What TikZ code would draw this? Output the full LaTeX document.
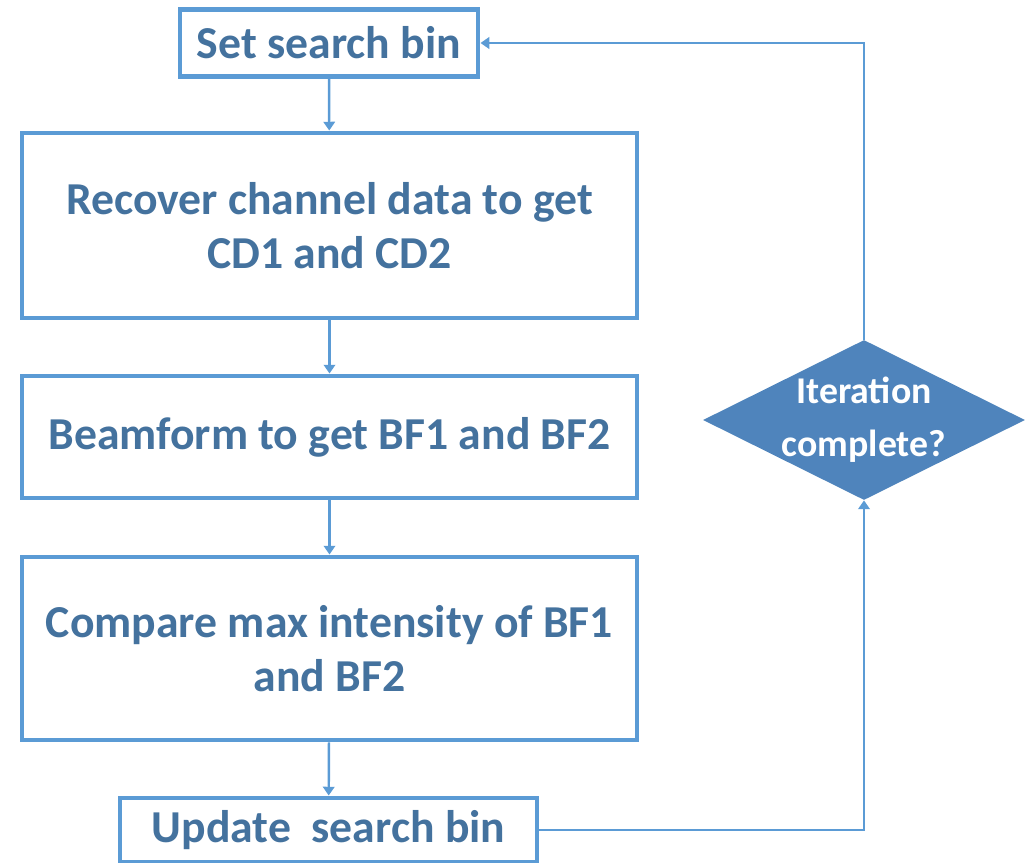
\documentclass[tikz,border=0pt]{standalone}
\usepackage{fontspec}
\setmainfont{Carlito}
\usepackage{tikz}
\usetikzlibrary{shapes.geometric,arrows.meta,positioning}
\definecolor{boxline}{HTML}{5B9BD5}
\definecolor{boxtext}{HTML}{44729E}
\definecolor{decfill}{HTML}{4F84BC}

\begin{document}
\begin{tikzpicture}[font=\fontsize{26}{31}\selectfont\bfseries,
  box/.style={draw=boxline,line width=2.8pt,fill=white,text=boxtext,align=center,inner sep=0pt},
  dec/.style={diamond,fill=decfill,inner sep=0pt,
    label={[text=white,align=center,font=\fontsize{21.5}{30}\selectfont\bfseries]center:#1}},
  flow/.style={draw=boxline,line width=1.4pt,-{Triangle[width=6.5pt,length=5pt]}},
]
  \useasboundingbox (0,0) rectangle (20.66,-17.26);

  \node[box,minimum width=5.96cm,minimum height=1.34cm] (set) at (6.58,-0.86) {Set search bin};
  \node[box,minimum width=12.3cm,minimum height=3.7cm] (recover) at (6.59,-4.51) {Recover channel data to get\\CD1 and CD2};
  \node[box,minimum width=12.3cm,minimum height=2.44cm] (beam) at (6.59,-8.74) {Beamform to get BF1 and BF2};
  \node[box,minimum width=12.3cm,minimum height=3.66cm] (compare) at (6.59,-12.97) {Compare max intensity of BF1\\and BF2};
  \node[box,minimum width=8.34cm,minimum height=1.28cm] (update) at (6.57,-16.6) {Update~ search bin};
  \node[dec={Iteration\\complete?},minimum width=6.44cm,minimum height=3.2cm] (iter) at (17.28,-8.4) {};

  \draw[flow] (set) -- (recover);
  \draw[flow] (recover) -- (beam);
  \draw[flow] (beam) -- (compare);
  \draw[flow] (compare) -- (update);
  \draw[flow] (update.east) -| (iter.south);
  \draw[flow] (iter.north) |- (set.east);
\end{tikzpicture}
\end{document}
